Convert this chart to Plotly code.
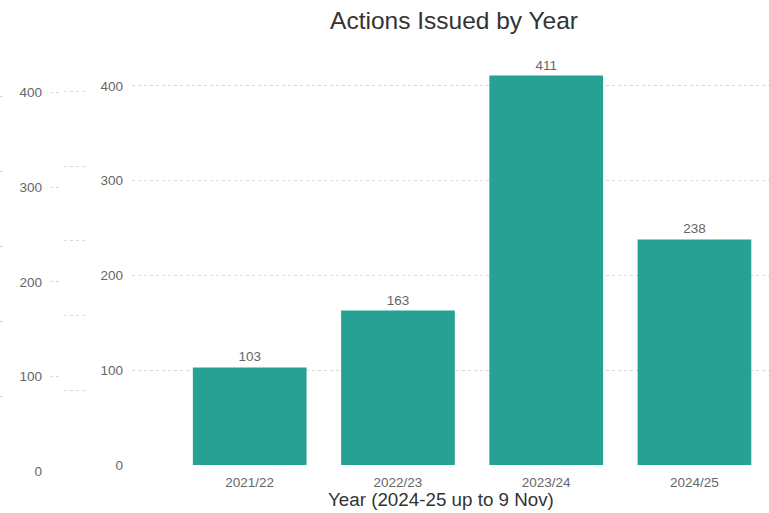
import plotly.graph_objects as go

years = ["2021/22", "2022/23", "2023/24", "2024/25"]
actions = [103, 163, 411, 238]
y_ticks = [0, 100, 200, 300, 400]

BAR_COLOR = "#28A195"
GRID = "#d9d9d9"
FONT = "Liberation Sans, Arial"
TICK_FONT = {"family": FONT, "size": 13.5, "color": "#666666"}

W, H = 769, 513
PLOT_H = H - 40 - 40  # height between top and bottom margins

fig = go.Figure()

fig.add_trace(
    go.Bar(
        x=years,
        y=actions,
        marker={"color": BAR_COLOR, "line": {"width": 0}},
        width=0.767,
        text=actions,
        textposition="outside",
        textfont={"family": FONT, "size": 13.5, "color": "#666666"},
        cliponaxis=False,
        showlegend=False,
        hoverinfo="skip",
    )
)

# faint duplicated axis left over in the screenshot
for ax in ("2", "3", "4"):
    fig.add_trace(go.Scatter(x=[None], y=[None], xaxis="x" + ax, yaxis="y" + ax, showlegend=False))

grid_common = {"showgrid": True, "gridcolor": GRID, "griddash": "dot", "gridwidth": 1, "zeroline": False,
               "showline": False, "ticks": ""}
main_dom = [7 / PLOT_H, 1]
ghost_dom = [0.55 / PLOT_H, 1 - 6.5 / PLOT_H]

fig.update_layout(
    width=W,
    height=H,
    template="plotly_white",
    paper_bgcolor="white",
    plot_bgcolor="white",
    margin={"l": 0, "r": 0, "t": 40, "b": 40},
    bargap=0.233,
    title={
        "text": "Actions Issued by Year",
        "x": 454 / W,
        "xanchor": "center",
        "y": 1 - 20 / H,
        "yanchor": "middle",
        "font": {"family": FONT, "size": 24.5, "color": "#333333"},
    },
    xaxis={
        "domain": [132 / W, 1],
        "range": [-0.794, 3.503],
        "showgrid": False,
        "showline": False,
        "ticks": "",
        "tickfont": TICK_FONT,
        "ticklabelstandoff": 6,
        "title": {"text": ""},
    },
    yaxis={
        **grid_common,
        "domain": main_dom,
        "range": [-1, 448.5],
        "tickvals": y_ticks,
        "tickfont": TICK_FONT,
        "ticklabelstandoff": 8,
    },
    xaxis2={"domain": [50 / W, 62 / W], "range": [0, 1], "visible": False},
    yaxis2={
        **grid_common,
        "anchor": "x2",
        "domain": ghost_dom,
        "range": [-1, 448.5],
        "tickvals": y_ticks,
        "tickfont": TICK_FONT,
        "ticklabelstandoff": 7,
    },
    xaxis3={"domain": [64 / W, 86 / W], "range": [0, 1], "visible": False},
    yaxis3={
        **grid_common,
        "anchor": "x3",
        "domain": main_dom,
        "range": [-0.0127, 5.686],
        "dtick": 1,
        "showticklabels": False,
    },
    xaxis4={"domain": [0, 3 / W], "range": [0, 1], "visible": False},
    yaxis4={
        **grid_common,
        "anchor": "x4",
        "domain": ghost_dom,
        "range": [-0.013, 5.666],
        "dtick": 1,
        "showticklabels": False,
    },
    annotations=[
        {
            "text": "Year (2024-25 up to 9 Nov)",
            "xref": "paper",
            "yref": "paper",
            "x": 441.5 / W,
            "y": (H - 40 - 500) / PLOT_H,
            "xanchor": "center",
            "yanchor": "middle",
            "showarrow": False,
            "font": {"family": FONT, "size": 18.8, "color": "#333333"},
        }
    ],
)

fig.write_html(
    "out.html",
    config={"displayModeBar": False},
    post_script="document.body.style.margin = '0';",
)
